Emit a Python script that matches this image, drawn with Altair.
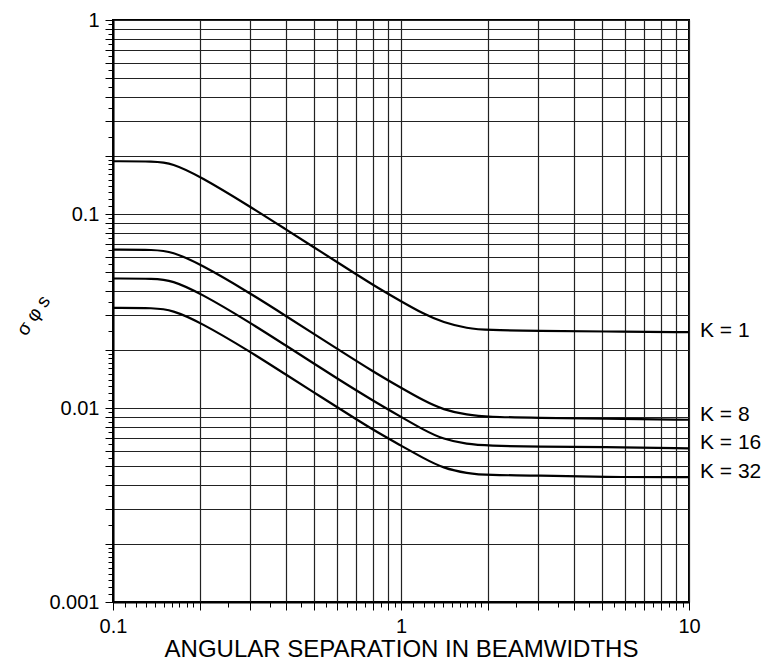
import altair as alt
import pandas as pd

# Angular separation (beamwidths) sample points
x_vals = [0.1, 0.14, 0.16, 0.2, 0.3, 0.4, 0.5, 0.6, 0.8, 1.0, 1.2, 1.4, 1.7, 2.0, 3.0, 5.0, 10.0]

# sigma_phi_s for each K
k1 = [0.187, 0.187, 0.183, 0.157, 0.109, 0.083, 0.0672, 0.0565, 0.043, 0.0355, 0.0305, 0.0276, 0.0257, 0.0252, 0.0250, 0.0248, 0.0246]
k8 = [0.0655, 0.0655, 0.064, 0.0555, 0.039, 0.0297, 0.0240, 0.0202, 0.0154, 0.0127, 0.0109, 0.0098, 0.0092, 0.0090, 0.0089, 0.0088, 0.0087]
k16 = [0.0465, 0.0465, 0.0455, 0.0393, 0.0275, 0.0209, 0.0169, 0.0142, 0.0109, 0.0090, 0.0077, 0.0069, 0.0065, 0.0064, 0.0063, 0.0063, 0.0062]
k32 = [0.0328, 0.0328, 0.032, 0.0278, 0.0195, 0.0148, 0.0120, 0.0101, 0.0077, 0.0064, 0.0055, 0.0049, 0.0046, 0.0045, 0.0045, 0.0044, 0.0044]

series_names = ["K = 1", "K = 8", "K = 16", "K = 32"]
series_vals = [k1, k8, k16, k32]

# curve labels at the right edge
label_x = [10, 10, 10, 10]
label_y = [0.0250, 0.0092, 0.0066, 0.0047]

x_domain = [0.1, 10]
y_domain = [0.001, 1]

# axis tick values: gridlines at 1..9 per decade plus finer ticks
grid_mult = [1, 2, 3, 4, 5, 6, 7, 8, 9]
fine_mult = [1.1, 1.2, 1.3, 1.4, 1.5, 1.6, 1.7, 1.8, 1.9, 2.5, 3.5, 4.5, 5.5, 6.5, 7.5, 8.5, 9.5]
x_ticks = sorted([m * d for d in [0.1, 1] for m in grid_mult + fine_mult] + [10])
y_ticks = sorted([m * d for d in [0.001, 0.01, 0.1] for m in grid_mult + fine_mult] + [1])

rows = []
for name, vals in zip(series_names, series_vals):
    for xv, yv in zip(x_vals, vals):
        rows.append({"x": xv, "sigma": yv, "K": name})
df = pd.DataFrame(rows)
lab = pd.DataFrame({"x": label_x, "y": label_y, "K": series_names})

FONT = "Liberation Sans"
is_grid = ("abs(datum.value / pow(10, floor(log(datum.value)/LN10 + 1e-9)) - "
           "round(datum.value / pow(10, floor(log(datum.value)/LN10 + 1e-9)))) < 0.01")
is_decade = "abs(log(datum.value)/LN10 - round(log(datum.value)/LN10)) < 1e-6"
label_expr = is_decade + " ? format(datum.value, '~g') : ''"

x_scale = alt.Scale(type="log", domain=x_domain, nice=False)
y_scale = alt.Scale(type="log", domain=y_domain, nice=False)

x_axis = alt.Axis(
    values=x_ticks, labelExpr=label_expr, labelOverlap=False, labelFlush=False,
    title="ANGULAR SEPARATION IN BEAMWIDTHS", titleFont=FONT, titleFontSize=24,
    titleFontWeight="normal", titleColor="black", titlePadding=1,
    labelFont=FONT, labelFontSize=20, labelColor="black", labelPadding=6,
    grid=True, gridColor="#222222", gridWidth=1.2,
    gridOpacity={"condition": {"test": is_grid, "value": 1}, "value": 0},
    tickSize={"condition": {"test": is_grid, "value": 8}, "value": 5},
    tickColor="black", tickWidth=1,
    domainColor="black", domainWidth=2,
)
y_axis = alt.Axis(
    values=y_ticks, labelExpr=label_expr, labelOverlap=False, labelFlush=False,
    title="σ φ s", titleFont=FONT, titleFontSize=19, titleFontWeight="normal",
    titleColor="black", titleAngle=305, titleX=-80, titleY=295,
    titleAlign="center", titleBaseline="middle",
    labelFont=FONT, labelFontSize=20, labelColor="black", labelPadding=6,
    grid=True, gridColor="#222222", gridWidth=1.2,
    gridOpacity={"condition": {"test": is_grid, "value": 1}, "value": 0},
    tickSize={"condition": {"test": is_grid, "value": 8}, "value": 5},
    tickColor="black", tickWidth=1,
    domainColor="black", domainWidth=2,
)

lines = alt.Chart(df).mark_line(color="black", strokeWidth=2.2, interpolate="basis", clip=True).encode(
    x=alt.X("x:Q", scale=x_scale, axis=x_axis),
    y=alt.Y("sigma:Q", scale=y_scale, axis=y_axis),
    detail="K:N",
)

labels = alt.Chart(lab).mark_text(
    align="left", baseline="middle", dx=11, font=FONT, fontSize=21, color="black"
).encode(
    x=alt.X("x:Q", scale=x_scale),
    y=alt.Y("y:Q", scale=y_scale),
    text="K:N",
)

chart = alt.layer(lines, labels).properties(
    width=576, height=582, autosize="none",
    padding={"left": 105, "top": 12, "right": 72, "bottom": 59},
    background="white",
).configure_view(stroke="black", strokeWidth=2)

chart.save("out.html", embed_options={"renderer": "svg", "actions": False})
